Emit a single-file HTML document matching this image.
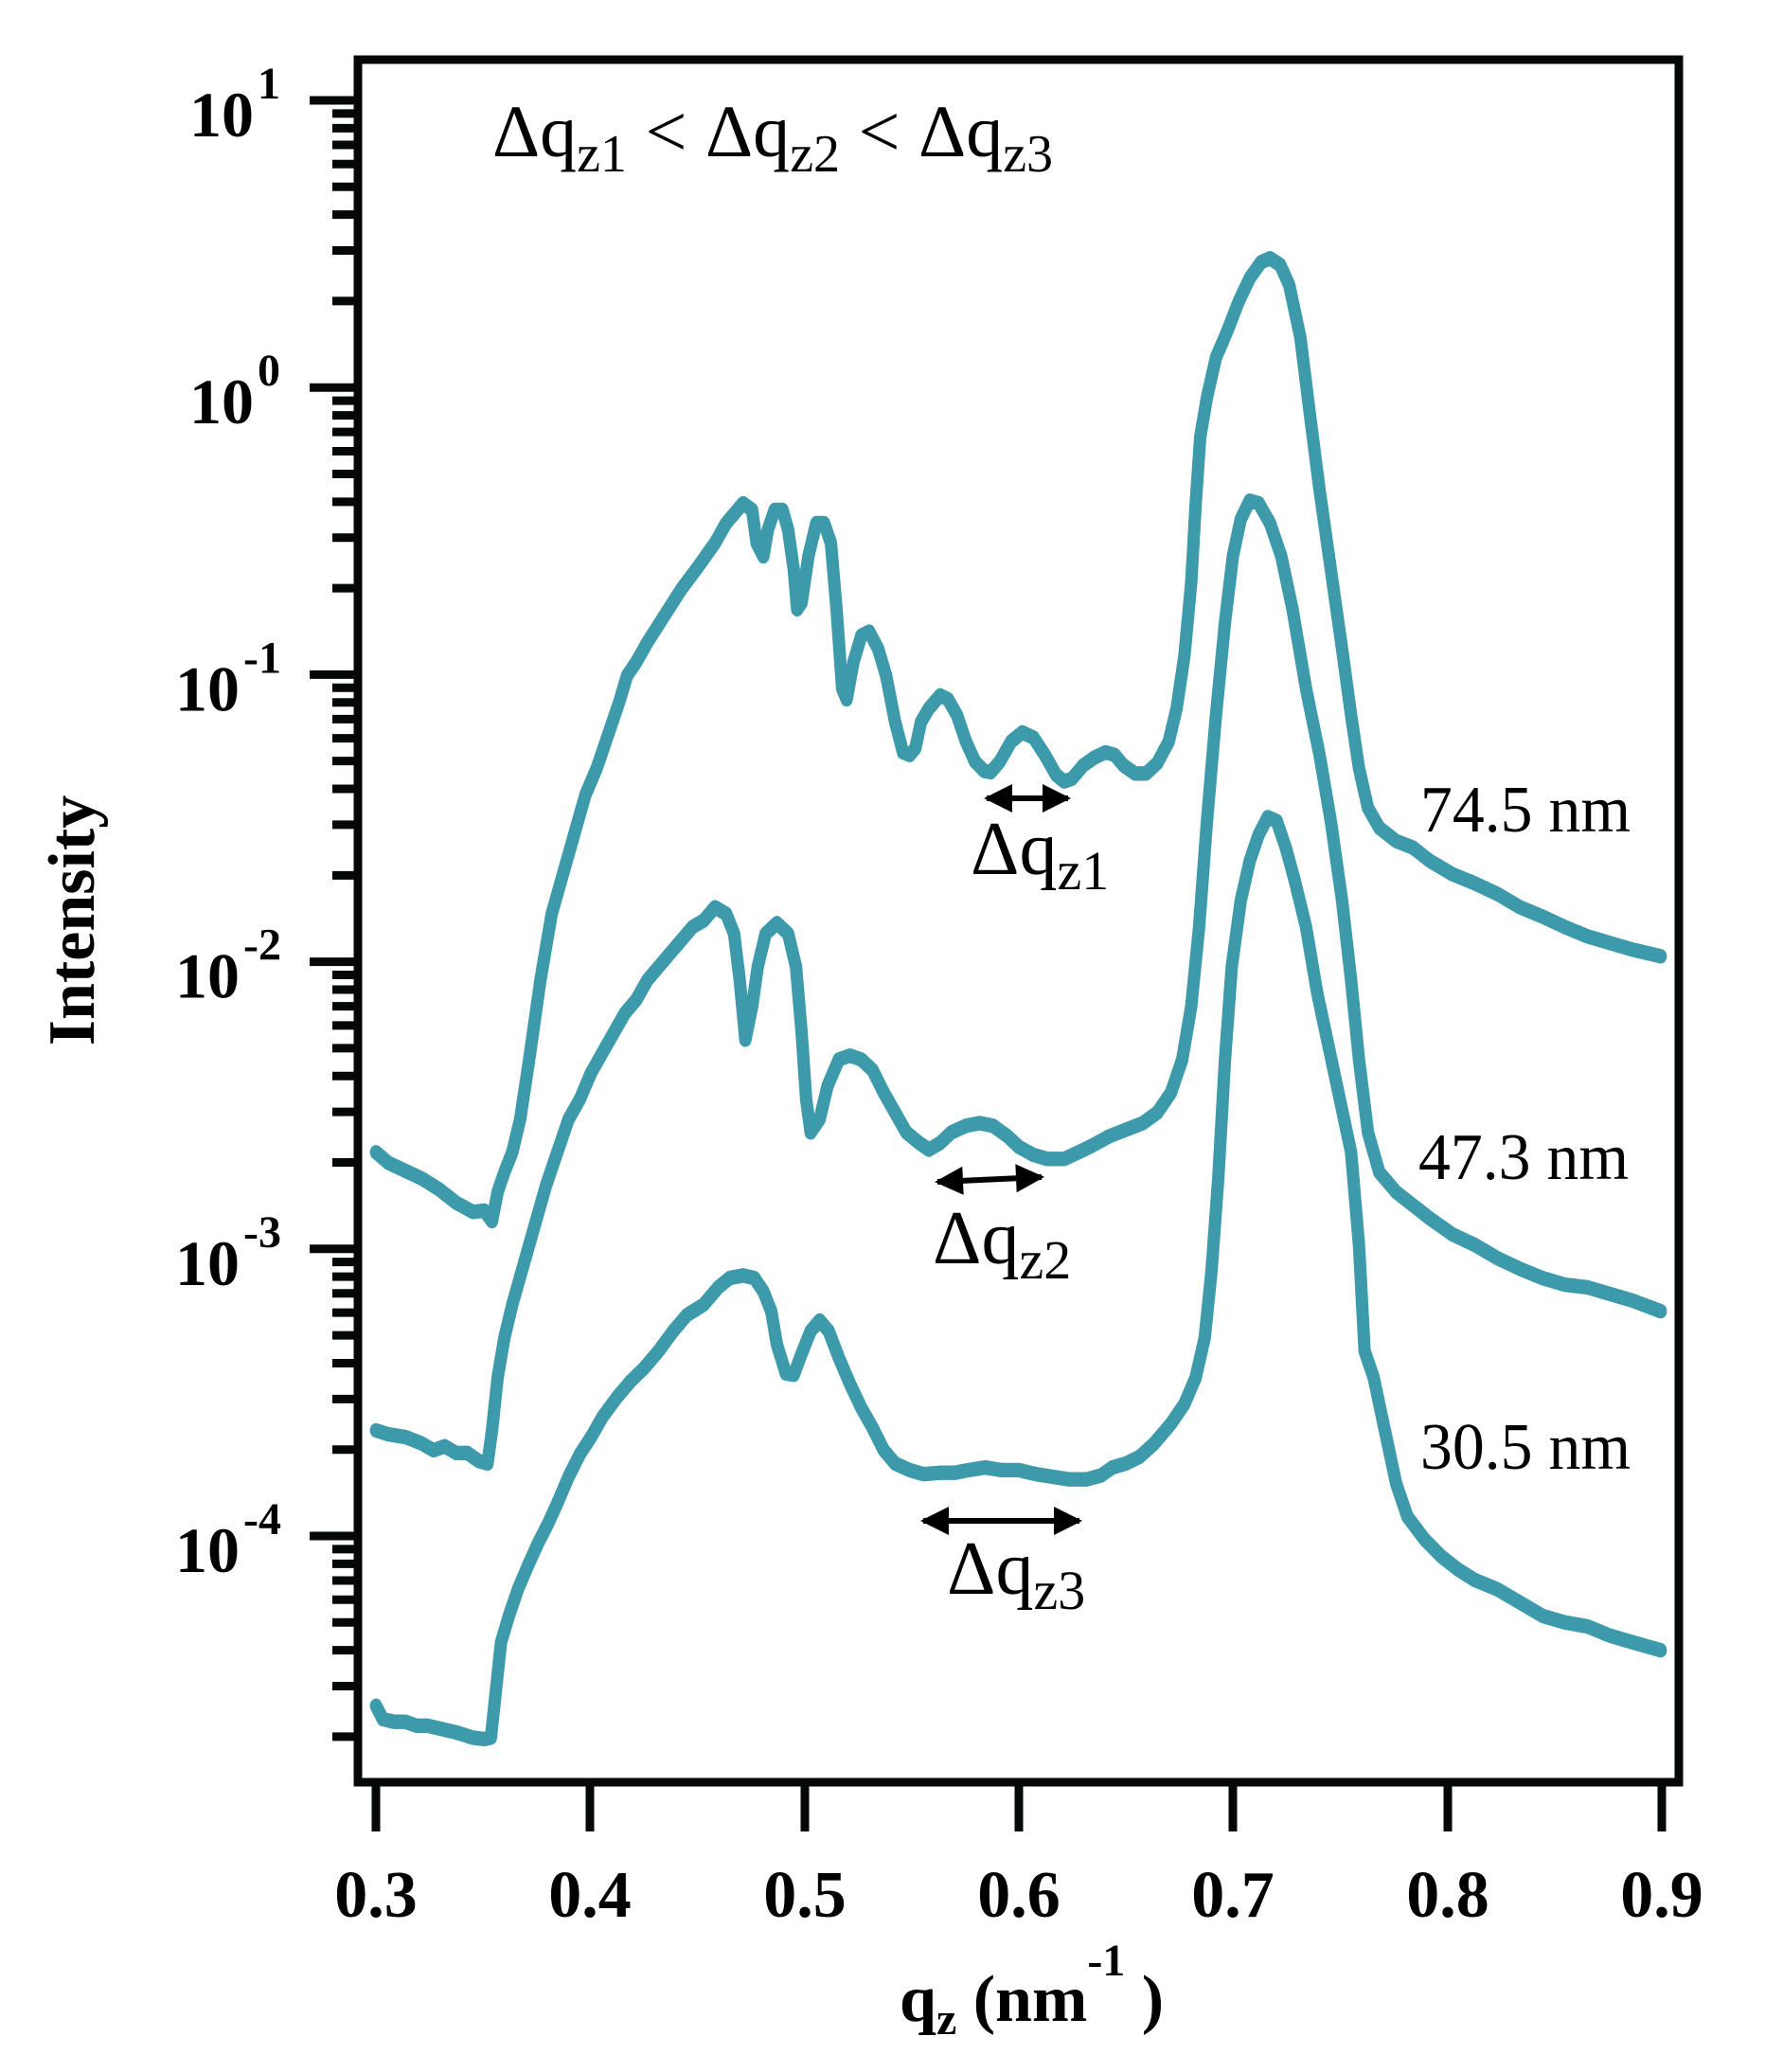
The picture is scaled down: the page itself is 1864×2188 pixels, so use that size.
<!DOCTYPE html>
<html><head><meta charset="utf-8"><style>
html,body{margin:0;padding:0;background:#fff;}
svg{display:block;}
text{font-family:"Liberation Serif",serif;fill:#000;}
.b{font-weight:bold;}
polyline.c{fill:none;stroke:#3d9aab;stroke-width:11px;stroke-linejoin:round;stroke-linecap:round;}
</style></head><body>
<svg width="1864" height="2188" viewBox="0 0 1864 2188" xmlns="http://www.w3.org/2000/svg">
<defs>
<marker id="ah" viewBox="0 0 10 10" refX="9" refY="5" markerWidth="5.5" markerHeight="5" orient="auto-start-reverse">
<path d="M0,0 L10,5 L0,10 z" fill="#000"/>
</marker>
</defs>
<g transform="scale(1.18906,1.39860)">
<polyline class="c" points="334,870 345,878 360,884 375,890 390,898 405,908 420,915 430,914 437,922 442,900 448,885 455,870 462,845 470,800 480,740 490,690 500,660 510,630 520,600 530,580 540,555 550,530 557,510 565,500 575,485 590,465 605,445 620,428 635,410 645,395 660,380 668,385 672,410 678,420 682,400 688,385 695,385 700,400 705,430 708,460 712,455 718,420 725,395 732,395 738,410 743,460 748,520 752,528 758,500 765,480 772,477 780,490 787,510 795,545 802,568 808,570 813,565 818,545 825,535 835,525 842,528 850,540 858,560 866,575 874,582 880,583 888,575 898,560 908,553 918,557 928,570 938,585 945,590 952,588 962,578 972,572 982,568 990,570 998,578 1008,584 1018,584 1028,576 1038,560 1045,535 1052,495 1058,440 1062,380 1066,330 1072,300 1080,270 1090,250 1100,228 1110,210 1120,198 1128,195 1137,200 1145,215 1155,255 1163,310 1172,370 1182,430 1192,490 1200,540 1207,580 1215,610 1225,625 1240,635 1255,640 1270,650 1290,660 1310,667 1330,675 1350,685 1370,692 1390,700 1410,707 1430,712 1450,717 1475,722"/>
<polyline class="c" points="334,1080 345,1083 360,1085 375,1090 385,1095 395,1092 405,1097 415,1097 425,1103 433,1105 437,1080 442,1040 448,1010 455,985 465,955 475,925 485,895 495,870 505,845 515,830 525,810 535,795 545,780 555,765 565,755 575,740 590,725 605,710 615,700 625,695 635,685 645,690 652,705 657,740 662,785 668,760 673,730 680,705 690,697 700,705 707,730 712,780 716,830 720,855 728,845 735,820 745,800 755,797 765,800 775,808 785,825 795,840 805,855 815,862 825,868 835,863 845,855 858,850 870,848 882,850 895,858 905,866 918,872 930,875 945,875 958,870 970,865 985,858 1000,853 1015,848 1028,840 1040,825 1050,800 1058,760 1065,700 1072,620 1080,540 1088,470 1095,420 1102,392 1110,378 1118,380 1128,395 1138,420 1148,460 1160,520 1172,570 1182,620 1192,680 1200,740 1207,800 1215,855 1225,885 1240,900 1255,910 1270,920 1290,932 1310,940 1330,950 1350,958 1370,965 1390,970 1410,972 1430,977 1450,982 1475,990"/>
<polyline class="c" points="334,1288 340,1298 350,1300 360,1300 370,1303 380,1303 390,1305 405,1308 420,1312 430,1313 436,1312 440,1280 445,1240 452,1220 460,1200 470,1180 478,1165 487,1150 495,1135 505,1115 515,1098 525,1085 535,1070 548,1055 560,1043 572,1033 585,1020 598,1005 610,993 625,985 638,972 648,965 660,963 670,965 678,975 685,990 690,1015 698,1037 705,1038 712,1022 720,1005 728,997 736,1005 745,1025 755,1045 765,1063 775,1078 785,1095 795,1105 808,1110 820,1113 835,1112 848,1112 860,1110 875,1108 890,1110 905,1110 920,1113 935,1115 950,1117 965,1117 978,1114 988,1108 1000,1105 1012,1100 1025,1090 1040,1075 1052,1060 1062,1040 1070,1010 1076,960 1082,890 1088,800 1094,730 1102,680 1110,650 1118,630 1126,617 1134,620 1142,640 1150,665 1160,700 1170,750 1180,790 1190,830 1200,870 1207,940 1212,1020 1220,1040 1230,1080 1240,1120 1250,1145 1265,1162 1280,1175 1295,1185 1310,1193 1330,1200 1350,1210 1370,1220 1390,1225 1410,1228 1430,1235 1450,1240 1475,1246"/>
</g>
<rect x="378" y="63" width="1395" height="1819" fill="none" stroke="#060807" stroke-width="9"/>
<g stroke="#060807" stroke-width="9" id="ticks"></g>
<g stroke="#000" stroke-width="6" fill="none">
<line x1="1042" y1="843" x2="1128" y2="843" marker-start="url(#ah)" marker-end="url(#ah)"/>
<line x1="990" y1="1248" x2="1100" y2="1243" marker-start="url(#ah)" marker-end="url(#ah)"/>
<line x1="975" y1="1606" x2="1140" y2="1606" marker-start="url(#ah)" marker-end="url(#ah)"/>
</g>
<text x="520" y="165" font-size="78">Δq<tspan font-size="56" dy="16">z1</tspan><tspan dy="-16"> &lt; Δq</tspan><tspan font-size="56" dy="16">z2</tspan><tspan dy="-16"> &lt; Δq</tspan><tspan font-size="56" dy="16">z3</tspan></text>
<text x="1025" y="923" font-size="80">Δq<tspan font-size="58" dy="16">z1</tspan></text>
<text x="985" y="1334" font-size="80">Δq<tspan font-size="58" dy="16">z2</tspan></text>
<text x="1000" y="1683" font-size="80">Δq<tspan font-size="58" dy="16">z3</tspan></text>
<text x="1500" y="878" font-size="70" textLength="222" lengthAdjust="spacingAndGlyphs">74.5 nm</text>
<text x="1498" y="1245" font-size="70" textLength="222" lengthAdjust="spacingAndGlyphs">47.3 nm</text>
<text x="1500" y="1551" font-size="70" textLength="222" lengthAdjust="spacingAndGlyphs">30.5 nm</text>
<g font-size="70" text-anchor="middle">
<text class="b" x="397" y="2024">0.3</text>
<text class="b" x="623" y="2024">0.4</text>
<text class="b" x="850" y="2024">0.5</text>
<text class="b" x="1076" y="2024">0.6</text>
<text class="b" x="1302" y="2024">0.7</text>
<text class="b" x="1529" y="2024">0.8</text>
<text class="b" x="1755" y="2024">0.9</text>
</g>
<text class="b" x="950" y="2134" font-size="70">q<tspan font-size="48" dy="14">z</tspan><tspan dy="-14"> (nm</tspan><tspan font-size="48" dy="-48">-1</tspan><tspan dy="48"> )</tspan></text>
<text class="b" transform="translate(99,972) rotate(-90)" text-anchor="middle" font-size="70">Intensity</text>
<g id="ylabels"></g>
<script>
(function(){
var ns="http://www.w3.org/2000/svg";
function Y(l){return 106+(1-l)*303.2;}
var g=document.getElementById("ticks");
function ln(x1,y1,x2,y2){var e=document.createElementNS(ns,"line");e.setAttribute("x1",x1);e.setAttribute("y1",y1);e.setAttribute("x2",x2);e.setAttribute("y2",y2);g.appendChild(e);}
for(var k=-5;k<=1;k++){
 if(k>=-4) ln(327,Y(k),378,Y(k));
 if(k<1) for(var m=2;m<=9;m++){var y=Y(k+Math.log10(m)); if(y<1878) ln(351,y,378,y);}
}
[397,623,850,1076,1302,1529,1755].forEach(function(x){ln(x,1882,x,1934);});
var yl=document.getElementById("ylabels");
[1,0,-1,-2,-3,-4].forEach(function(k){
 var y=Y(k), t=document.createElementNS(ns,"text");
 t.setAttribute("class","b");t.setAttribute("font-size","68");
 var endx = k>=0?268:253;
 t.setAttribute("x",endx);t.setAttribute("y",y+38);t.setAttribute("text-anchor","end");
 t.textContent="10";yl.appendChild(t);
 var s=document.createElementNS(ns,"text");
 s.setAttribute("class","b");s.setAttribute("font-size","48");
 s.setAttribute("x",endx+4);s.setAttribute("y",y-2);
 s.textContent=String(k);yl.appendChild(s);
});
})();
</script>
</svg>
</body></html>
